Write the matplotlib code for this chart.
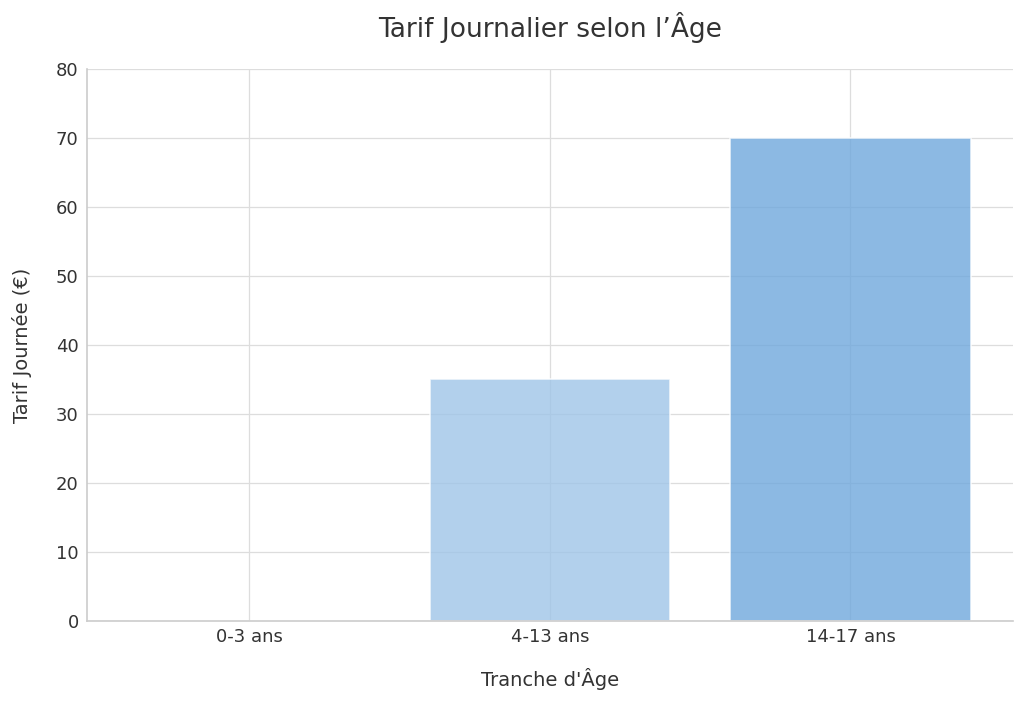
import matplotlib
matplotlib.use("Agg")
import matplotlib.pyplot as plt

categories = ["0-3 ans", "4-13 ans", "14-17 ans"]
values = [0, 35, 70]
colors = ["#9fc5e8", "#9fc5e8", "#6fa8dc"]

plt.rcParams['font.family'] = ['DejaVu Sans']
fig, ax = plt.subplots(figsize=(10.24, 7.04), dpi=100)
fig.subplots_adjust(left=0.085, right=0.989, top=0.902, bottom=0.118)

ax.set_axisbelow(True)
ax.grid(True, color="#dddddd", linewidth=0.9)
ax.bar(categories, values, width=0.8, color=colors, alpha=0.8,
       edgecolor="white", linewidth=1.2)

ax.set_ylim(0, 80)
ax.set_yticks(range(0, 81, 10))
for s in ["top", "right"]:
    ax.spines[s].set_visible(False)
for s in ["left", "bottom"]:
    ax.spines[s].set_color("#cccccc")
    ax.spines[s].set_linewidth(1.2)

ax.tick_params(axis="both", length=0, labelsize=13, colors="#333333", pad=6)
ax.tick_params(axis="x", pad=5)
ax.set_title("Tarif Journalier selon l’Âge", fontsize=19, color="#333333", pad=23)
ax.set_xlabel("Tranche d'Âge", fontsize=14, color="#333333", labelpad=16)
ax.set_ylabel("Tarif Journée (€)", fontsize=14, color="#333333", labelpad=17)

fig.savefig("out.png", dpi=100)
